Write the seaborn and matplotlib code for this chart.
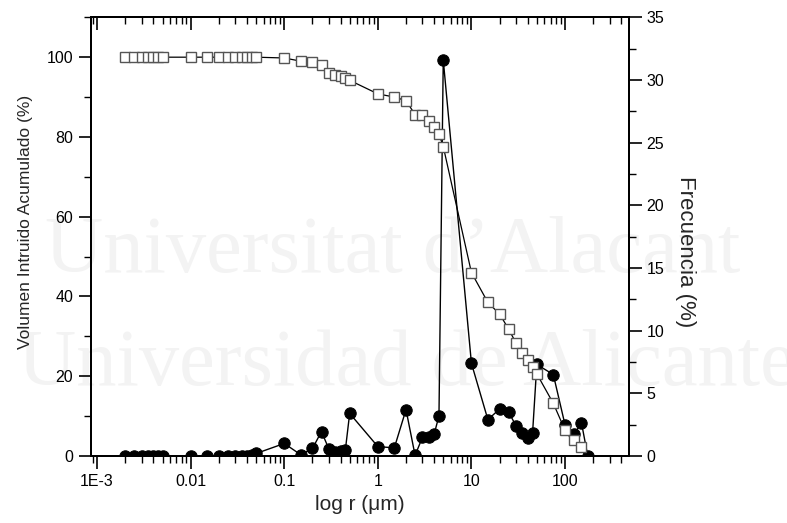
import numpy as np
import pandas as pd
import matplotlib
matplotlib.use("Agg")
import matplotlib.pyplot as plt
import seaborn as sns
from matplotlib.ticker import FixedLocator, FixedFormatter, LogLocator, NullFormatter, MultipleLocator

# ---- data ----
r_cum = [0.002, 0.0025, 0.003, 0.0035, 0.004, 0.0045, 0.005, 0.01, 0.015,
         0.02, 0.025, 0.03, 0.035, 0.04, 0.045, 0.05, 0.1, 0.15, 0.2, 0.25,
         0.3, 0.35, 0.4, 0.45, 0.5, 1.0, 1.5, 2.0, 2.5, 3.0, 3.5, 4.0, 4.5,
         5.0, 10, 15, 20, 25, 30, 35, 40, 45, 50, 75, 100, 125, 150]
vol_cum = [100, 100, 100, 100, 100, 100, 100, 100, 100,
           100, 100, 100, 100, 100, 100, 100, 99.8, 99.0, 98.7, 98.1,
           96.0, 95.6, 95.2, 94.8, 94.2, 90.8, 90.0, 89.1, 85.6, 85.6, 83.9, 82.4, 80.7,
           77.6, 46.0, 38.5, 35.6, 31.8, 28.3, 25.8, 24.1, 22.4, 20.6, 13.2, 6.5, 4.0, 2.3]

r_freq = [0.002, 0.0025, 0.003, 0.0035, 0.004, 0.0045, 0.005, 0.01, 0.015,
          0.02, 0.025, 0.03, 0.035, 0.04, 0.045, 0.05, 0.1, 0.15, 0.2, 0.25,
          0.3, 0.35, 0.4, 0.45, 0.5, 1.0, 1.5, 2.0, 2.5, 3.0, 3.5, 4.0, 4.5,
          5.0, 10, 15, 20, 25, 30, 35, 40, 45, 50, 75, 100, 125, 150, 175]
freq = [0, 0, 0, 0, 0, 0, 0, 0, 0,
        0, 0, 0, 0, 0, 0.05, 0.2, 1.0, 0.1, 0.6, 1.95,
        0.55, 0.35, 0.4, 0.5, 3.4, 0.75, 0.65, 3.7, 0.05, 1.5, 1.5, 1.75, 3.2,
        31.6, 7.4, 2.9, 3.75, 3.5, 2.4, 1.8, 1.4, 1.8, 7.3, 6.5, 2.5, 1.75, 2.65, 0]

xtick_vals = [1e-3, 1e-2, 1e-1, 1, 10, 100]
xtick_labels = ["1E-3", "0.01", "0.1", "1", "10", "100"]

df_cum = pd.DataFrame({"r": r_cum, "v": vol_cum})
df_freq = pd.DataFrame({"r": r_freq, "f": freq})

sns.set_style("white")
plt.rcParams["font.family"] = ["Liberation Sans", "DejaVu Sans"]

W, H = 787, 523
fig = plt.figure(figsize=(W / 100, H / 100), dpi=100)
fig.patch.set_facecolor("white")

# faint watermark text
fig.text(45 / W, 1 - 272 / H, "Universitat d\u2019Alacant", fontsize=58,
         family=["Liberation Serif", "DejaVu Serif"], color="#f3f3f3", zorder=-5)
fig.text(18 / W, 1 - 385 / H, "Universidad de Alicante", fontsize=58,
         family=["Liberation Serif", "DejaVu Serif"], color="#f3f3f3", zorder=-5)

L, R, T, B = 90.5, 629, 17.3, 456
ax = fig.add_axes([L / W, 1 - B / H, (R - L) / W, (B - T) / H])
ax2 = ax.twinx()
ax3 = ax.twiny()

# frequency (filled circles) on right axis
sns.lineplot(data=df_freq, x="r", y="f", ax=ax2, sort=False, estimator=None,
             color="black", linewidth=1.0, marker="o", markersize=8.2,
             markerfacecolor="black", markeredgecolor="black")
# cumulative (open squares) on left axis
sns.lineplot(data=df_cum, x="r", y="v", ax=ax, sort=False, estimator=None,
             color="black", linewidth=0.9, marker="s", markersize=6.5,
             markerfacecolor="white", markeredgecolor="#555555", markeredgewidth=1.0)

ax.set_zorder(ax2.get_zorder() + 1)
ax3.set_zorder(ax.get_zorder() + 1)
for a in (ax, ax2, ax3):
    a.patch.set_visible(False)
    a.set_xscale("log")
    a.set_xlim(8.5e-4, 483)

ax.set_ylim(0, 110)
ax2.set_ylim(0, 35)

for a in (ax, ax3):
    a.xaxis.set_major_locator(FixedLocator(xtick_vals))
    a.xaxis.set_minor_locator(LogLocator(base=10, subs=np.arange(2, 10), numticks=20))
    a.xaxis.set_minor_formatter(NullFormatter())
ax.xaxis.set_major_formatter(FixedFormatter(xtick_labels))
ax3.xaxis.set_major_formatter(NullFormatter())

ax.yaxis.set_major_locator(FixedLocator([0, 20, 40, 60, 80, 100]))
ax.yaxis.set_minor_locator(MultipleLocator(10))
ax2.yaxis.set_major_locator(MultipleLocator(5))
ax2.yaxis.set_minor_locator(MultipleLocator(2.5))

ax.tick_params(axis="x", which="both", bottom=True, top=False, direction="out",
               labelsize=11.5, colors="black", pad=4)
ax.tick_params(axis="x", which="major", length=9, width=1.2)
ax.tick_params(axis="x", which="minor", length=5, width=1.0)
ax3.tick_params(axis="x", which="both", top=True, bottom=False, direction="in",
                labeltop=False, labelbottom=False, colors="black")
ax3.tick_params(axis="x", which="major", length=9, width=1.2)
ax3.tick_params(axis="x", which="minor", length=5, width=1.0)
ax3.tick_params(axis="y", left=False, right=False, labelleft=False, labelright=False)
ax.tick_params(axis="y", which="both", left=True, right=False, direction="out",
               labelsize=11.5, colors="black")
ax.tick_params(axis="y", which="major", length=9, width=1.2)
ax.tick_params(axis="y", which="minor", length=5, width=1.0)
ax2.tick_params(axis="y", which="both", right=True, left=False, direction="out",
                labelsize=11.5, colors="black")
ax2.tick_params(axis="y", which="major", length=9, width=1.2)
ax2.tick_params(axis="y", which="minor", length=5, width=1.0)
ax2.tick_params(axis="x", which="both", bottom=False, top=False, labelbottom=False)

for a in (ax, ax2, ax3):
    for s in a.spines.values():
        s.set_color("black")
        s.set_linewidth(1.3)

ax.set_xlabel("log r (\u03bcm)", fontsize=15, va="center")
ax.xaxis.set_label_coords(0.5, -(505 - B) / (B - T))
ax.set_ylabel("Volumen Intruido Acumulado (%)", fontsize=12.5)
ax.yaxis.set_label_coords(-(L - 33) / (R - L), 1 - (222 - T) / (B - T))
ax2.set_ylabel("Frecuencia (%)", fontsize=16, rotation=-90, va="center")
ax2.yaxis.set_label_coords(1 + (685 - R) / (R - L), 1 - (252 - T) / (B - T))

fig.savefig("out.png", dpi=100)
